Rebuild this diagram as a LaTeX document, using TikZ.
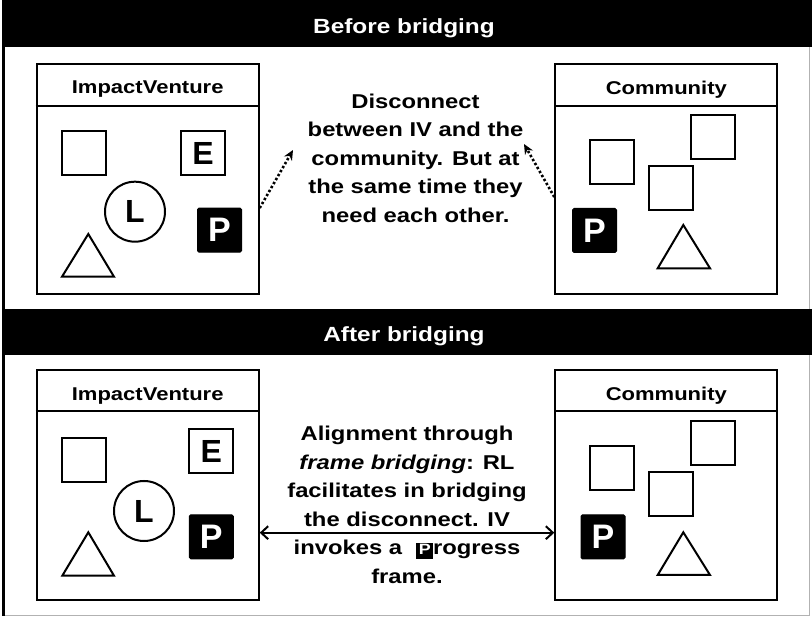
\documentclass[tikz,border=0pt]{standalone}
\usepackage{fontspec}
\setmainfont{Liberation Sans}
\usepackage{graphicx}
\usetikzlibrary{arrows.meta}
\newcommand{\hs}[1]{\scalebox{1.19}[1]{#1}}
\newcommand{\picon}{{\setlength{\fboxsep}{0pt}\colorbox{black}{\makebox[14pt]{\rule[-3.8pt]{0pt}{15.6pt}\color{white}\fontsize{15}{15}\selectfont P}}}}
\tikzset{
 ventbox/.style={draw, line width=2pt, minimum width=222pt, minimum height=230pt, inner sep=0pt},
 sqr/.style={draw, line width=2pt, minimum size=44pt, inner sep=0pt, font=\fontsize{32}{32}\selectfont\bfseries},
 psq/.style={fill=black, draw=black, line width=1pt, minimum size=44pt, inner sep=0pt, rounded corners=1.5pt, text=white, font=\fontsize{34}{34}\selectfont\bfseries},
 circ/.style={draw, circle, line width=2pt, minimum size=60pt, inner sep=0pt, font=\fontsize{32}{32}\selectfont\bfseries},
 tri/.style={draw, line width=2pt, line join=miter},
 banner/.style={fill=black, minimum width=809pt, inner sep=0pt},
 bannertext/.style={text=white, inner sep=0pt, font=\fontsize{20.5}{24}\selectfont\bfseries},
 boxtitle/.style={font=\fontsize{18.5}{22}\selectfont\bfseries, inner sep=0pt},
 bodytext/.style={align=center, font=\fontsize{20}{28.5}\selectfont\bfseries, inner sep=0pt},
 dotarrow/.style={line width=2.6pt, dash pattern=on 2.4pt off 2.2pt, -{Stealth[length=10pt,width=9pt]}},
 bothway/.style={line width=2pt, {Straight Barb[length=7pt,width=13pt]}-{Straight Barb[length=7pt,width=13pt]}},
 headline/.style={line width=2pt},
}
\begin{document}
\begin{tikzpicture}[x=1pt,y=-1pt]
\useasboundingbox (0,0) rectangle (812,617);
\fill[white] (0,0) rectangle (812,617);
% outer frame
\draw[gray!60, line width=1.5pt] (3.5,0) rectangle (809.5,615.5);
\draw[black, line width=2.5pt] (3.5,0) -- (3.5,616);
% banners
\node (b1) [banner, minimum height=47pt] at (407.5,23.5) {};
\node (b1t) [bannertext] at (404,28) {\hs{Before bridging}};
\node (b2) [banner, minimum height=46pt] at (407.5,332) {};
\node (b2t) [bannertext] at (404,336) {\hs{After bridging}};

% ---------- top panel ----------
\node (iv1) [ventbox] at (147.7,179) {};
\draw[headline] ([yshift=-42.7pt]iv1.north west) -- ([yshift=-42.7pt]iv1.north east);
\node (iv1t) [boxtitle] at ([yshift=-26.5pt]iv1.north) {\hs{ImpactVenture}};
\node (iv1s) [sqr] at (83.8,153) {};
\node (iv1e) [sqr] at (203,153) {E};
\node (iv1l) [circ] at (135,211.7) {L};
\node (iv1p) [psq] at (219.5,230.2) {P};
\draw[tri] (88.3,234) -- (114,276.7) -- (62,276.7) -- cycle;

\node (co1) [ventbox] at (666.3,179) {};
\draw[headline] ([yshift=-42.7pt]co1.north west) -- ([yshift=-42.7pt]co1.north east);
\node (co1t) [boxtitle] at ([yshift=-26.5pt]co1.north) {\hs{Community}};
\node (co1a) [sqr] at (611.5,162) {};
\node (co1b) [sqr] at (670.5,188) {};
\node (co1c) [sqr] at (713.2,136.8) {};
\node (co1p) [psq] at (594.5,230.5) {P};
\draw[tri] (683.3,225) -- (710,268.3) -- (657.7,268.3) -- cycle;

\node (t1) [bodytext] at (415.5,158) {\hs{Disconnect}\\\hs{between IV and the}\\\hs{community. But at}\\\hs{the same time they}\\\hs{need each other.}};

\coordinate (h1) at (293,150);
\coordinate (h2) at (524,144);
\draw[dotarrow] ([yshift=-29pt]iv1.east) -- (h1);
\draw[dotarrow] ([yshift=-18pt]co1.west) -- (h2);

% ---------- bottom panel ----------
\node (iv2) [ventbox] at (147.7,485.3) {};
\draw[headline] ([yshift=-42pt]iv2.north west) -- ([yshift=-42pt]iv2.north east);
\node (iv2t) [boxtitle] at ([yshift=-26.5pt]iv2.north) {\hs{ImpactVenture}};
\node (iv2s) [sqr] at (83.8,460.3) {};
\node (iv2e) [sqr] at (211.2,451.5) {E};
\node (iv2l) [circ] at (144,511) {L};
\node (iv2p) [psq] at (211.3,536.8) {P};
\draw[tri] (88.3,532.3) -- (114,575.7) -- (62.3,575.7) -- cycle;

\node (co2) [ventbox] at (666.3,485.3) {};
\draw[headline] ([yshift=-42pt]co2.north west) -- ([yshift=-42pt]co2.north east);
\node (co2t) [boxtitle] at ([yshift=-26.5pt]co2.north) {\hs{Community}};
\node (co2a) [sqr] at (611.5,468) {};
\node (co2b) [sqr] at (670.5,494.5) {};
\node (co2c) [sqr] at (713.2,443) {};
\node (co2p) [psq] at (603,536.8) {P};
\draw[tri] (683.3,532.3) -- (710,575) -- (657.7,575) -- cycle;

\node (t2) [bodytext] at (407,505) {\hs{Alignment through}\\\hs{\textit{frame bridging}: RL}\\\hs{facilitates in bridging}\\\hs{the disconnect. IV}\\\hs{invokes a\hspace{12pt}\picon rogress}\\\hs{frame.}};

\draw[bothway] ([yshift=-47.4pt]iv2.east) -- ([yshift=-47.4pt]co2.west);
\end{tikzpicture}
\end{document}
